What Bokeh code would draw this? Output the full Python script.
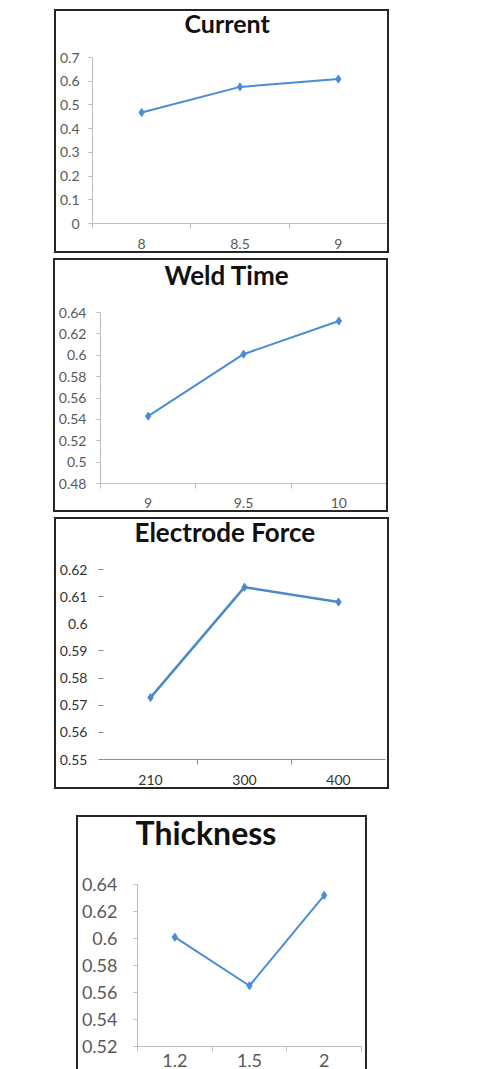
from bokeh.plotting import figure
from bokeh.models import FixedTicker, Spacer, Range1d, ColumnDataSource, LinearAxis, Div
from bokeh.layouts import column, row
from bokeh.embed import file_html
from bokeh.resources import INLINE

# ---------------- data ----------------
current_levels = ["8", "8.5", "9"]
current_values = [0.468, 0.576, 0.609]
current_yticks = [0.0, 0.1, 0.2, 0.3, 0.4, 0.5, 0.6, 0.7]
current_ylabels = ["0", "0.1", "0.2", "0.3", "0.4", "0.5", "0.6", "0.7"]

weld_levels = ["9", "9.5", "10"]
weld_values = [0.543, 0.601, 0.632]
weld_yticks = [0.48, 0.5, 0.52, 0.54, 0.56, 0.58, 0.6, 0.62, 0.64]
weld_ylabels = ["0.48", "0.5", "0.52", "0.54", "0.56", "0.58", "0.6", "0.62", "0.64"]

force_levels = ["210", "300", "400"]
force_values = [0.5728, 0.6135, 0.608]
force_yticks = [0.55, 0.56, 0.57, 0.58, 0.59, 0.6, 0.61, 0.62]
force_ylabels = ["0.55", "0.56", "0.57", "0.58", "0.59", "0.6", "0.61", "0.62"]
force_ytick_marks = [0.55, 0.56, 0.57, 0.58, 0.59, 0.61, 0.62]

thick_levels = ["1.2", "1.5", "2"]
thick_values = [0.601, 0.565, 0.632]
thick_yticks = [0.52, 0.54, 0.56, 0.58, 0.6, 0.62, 0.64]
thick_ylabels = ["0.52", "0.54", "0.56", "0.58", "0.6", "0.62", "0.64"]

LINE = "#4a8cd6"
AXIS = "#bfbfbf"
BOXC = "#262626"
BW = 2


def bar(w, h):
    return Div(text="", width=w, height=h, margin=0,
               styles={"background-color": BOXC})


def panel(title, levels, values, yticks, ylabels, W, H, fl, fr, ft, fb, lift,
          title_size, title_offset, title_gap, tick_size, tick_color,
          x_edges=True, ytick_marks=None, line_color=LINE, line_width=2,
          xaxis_color=AXIS, ylab_standoff=9, xlab_standoff=10, bottom_line=True):
    n = len(levels)
    pos = [i + 1 for i in range(n)]
    iw = W - 2 * BW
    ih = H - BW - (BW if bottom_line else 0)
    # the canvas reaches `lift` px above the inner box so the title can sit high
    p = figure(width=iw, height=ih + lift, output_backend="svg", toolbar_location=None,
               x_range=Range1d(0.5, n + 0.5), y_range=Range1d(yticks[0], yticks[-1]),
               min_border_left=fl, min_border_right=fr, min_border_top=ft + lift,
               min_border_bottom=fb, margin=(-lift, 0, 0, 0))
    p.grid.visible = False
    p.outline_line_color = None
    p.background_fill_color = "white"
    p.border_fill_alpha = 0

    xa = p.below[0]
    ya = p.left[0]

    p.title.text = title
    p.title.text_font = "Lato"
    p.title.text_font_style = "bold"
    p.title.text_font_size = f"{title_size}px"
    p.title.text_color = "#111111"
    p.title.align = "left"
    p.title.offset = title_offset
    p.title.standoff = 0
    # invisible spacer between the title and the plot area
    gap = LinearAxis(ticker=FixedTicker(ticks=[pos[0]], minor_ticks=[]),
                     axis_line_color=None,
                     major_tick_line_color="white", minor_tick_line_color=None,
                     major_tick_in=0, major_tick_out=title_gap,
                     minor_tick_in=0, minor_tick_out=0,
                     major_label_overrides={pos[0]: ""},
                     major_label_text_font_size="1px",
                     major_label_standoff=0, axis_label_standoff=0)
    p.add_layout(gap, "above")

    edges = [i + 0.5 for i in range(n + 1)]
    if not x_edges:
        edges = edges[1:-1]
    xa.ticker = FixedTicker(ticks=pos, minor_ticks=edges)
    xa.major_label_overrides = {k: v for k, v in zip(pos, levels)}
    xa.major_tick_line_color = None
    xa.major_tick_out = 0
    xa.major_tick_in = 0
    xa.minor_tick_in = 0
    xa.minor_tick_out = 5
    xa.minor_tick_line_color = xaxis_color
    xa.axis_line_color = xaxis_color
    xa.major_label_text_font = "Lato"
    xa.major_label_text_font_size = f"{tick_size}px"
    xa.major_label_text_color = tick_color
    xa.major_label_standoff = xlab_standoff

    ya.major_label_overrides = {k: v for k, v in zip(yticks, ylabels)}
    ya.major_label_text_font = "Lato"
    ya.major_label_text_font_size = f"{tick_size}px"
    ya.major_label_text_color = tick_color
    ya.major_label_standoff = ylab_standoff
    if ytick_marks is None:
        ya.ticker = FixedTicker(ticks=yticks, minor_ticks=[])
        ya.major_tick_out = 4
        ya.major_tick_in = 0
        ya.major_tick_line_color = AXIS
        ya.axis_line_color = AXIS
    else:
        ya.ticker = FixedTicker(ticks=yticks, minor_ticks=ytick_marks)
        ya.major_tick_line_color = None
        ya.major_tick_out = 0
        ya.major_tick_in = 0
        ya.minor_tick_out = 5
        ya.minor_tick_in = 0
        ya.minor_tick_line_color = "#8c8c8c"
        ya.axis_line_color = None

    src = ColumnDataSource(dict(x=pos, y=values))
    p.line("x", "y", source=src, line_color=line_color, line_width=line_width)
    p.scatter("x", "y", source=src, marker="diamond", size=8,
              fill_color=line_color, line_color=line_color)

    parts = [bar(W, BW), row(bar(BW, ih), p, bar(BW, ih), spacing=0)]
    if bottom_line:
        parts.append(bar(W, BW))
    return column(*parts, spacing=0)


p1 = panel("Current", current_levels, current_values, current_yticks, current_ylabels,
           W=335, H=244, fl=34, fr=0, ft=46, fb=28, lift=7,
           title_size=25, title_offset=92, title_gap=20,
           tick_size=14, tick_color="#595959")
p2 = panel("Weld Time", weld_levels, weld_values, weld_yticks, weld_ylabels,
           W=335, H=254, fl=44, fr=0, ft=52, fb=27, lift=5,
           title_size=26, title_offset=64, title_gap=22,
           tick_size=14, tick_color="#595959", ylab_standoff=10, xlab_standoff=9)
p3 = panel("Electrode Force", force_levels, force_values, force_yticks, force_ylabels,
           W=335, H=272, fl=47, fr=2, ft=50, fb=27, lift=7,
           title_size=26, title_offset=31, title_gap=22,
           tick_size=14, tick_color="#333333", x_edges=False,
           ytick_marks=force_ytick_marks, line_color="#4a8ac9", line_width=2.5,
           xaxis_color="#8c8c8c", ylab_standoff=11)
p4 = panel("Thickness", thick_levels, thick_values, thick_yticks, thick_ylabels,
           W=291, H=254, fl=58, fr=4, ft=67, fb=22, lift=8,
           title_size=32, title_offset=-2, title_gap=33,
           tick_size=18, tick_color="#595959", ylab_standoff=16, xlab_standoff=2,
           bottom_line=False)

layout = column(
    Spacer(height=9),
    row(Spacer(width=54), p1, spacing=0),
    Spacer(height=5),
    row(Spacer(width=53), p2, spacing=0),
    Spacer(height=5),
    row(Spacer(width=54), p3, spacing=0),
    Spacer(height=26),
    row(Spacer(width=76), p4, spacing=0),
    spacing=0,
)

open("out.html", "w").write(file_html(layout, INLINE))
